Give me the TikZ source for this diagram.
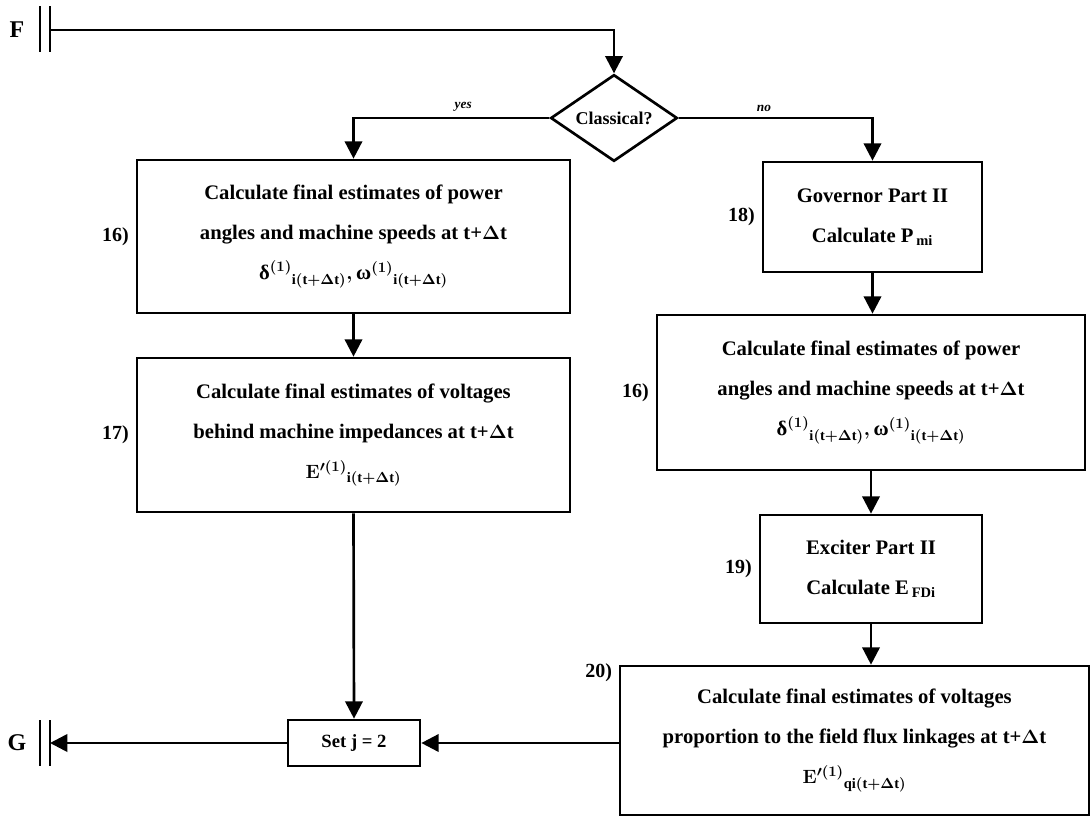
\documentclass[tikz,border=0pt]{standalone}
\usepackage{fontspec}
\setmainfont{Liberation Serif}
\usepackage{tikz}
\usetikzlibrary{arrows.meta,shapes.geometric,positioning}

\tikzset{
  procbox/.style={draw, line width=2pt, align=center, inner sep=0pt,
    font=\bfseries\boldmath\fontsize{15.5}{30}\selectfont},
  decision/.style={draw, diamond, line width=2pt, inner sep=0pt, aspect=1.46,
    minimum width=95pt, minimum height=65pt, font=\bfseries\fontsize{13.5}{15}\selectfont},
  flow/.style={line width=2pt, -{Triangle[width=13pt,length=13pt]}},
  wire/.style={line width=2pt},
  steplbl/.style={font=\bfseries\fontsize{15}{16}\selectfont, inner sep=2pt},
  branch/.style={font=\bfseries\itshape\fontsize{10}{10}\selectfont, inner sep=1pt},
  terminal/.style={font=\bfseries\fontsize{18}{18}\selectfont},
}
\newcommand{\tpdt}{t+$\Delta$t}
\newcommand{\idt}{\mathrm{i(t+}\Delta\mathrm{t)}}

\begin{document}
\begin{tikzpicture}[x=0.75pt,y=-0.75pt]
\useasboundingbox (0,0) rectangle (1092,821);

% Entry F
\node[terminal] (F) at (17,30) {F};
\draw[wire] (40,6) -- (40,52);
\draw[wire] (50,6) -- (50,52);
\coordinate (fbar) at (50,30);

% Decision
\node[decision] (cls) at (614,118) {Classical?};

% Classical branch
\node[procbox, minimum width=324.75pt, minimum height=114.75pt] (b16l) at (353.5,236.5)
  {Calculate final estimates of power\\ angles and machine speeds at \tpdt\\
   $\hbox{δ}^{(1)}{}_{\idt}, \hbox{ω}^{(1)}{}_{\idt}$};
\node[procbox, minimum width=324.75pt, minimum height=115.5pt] (b17) at (353.5,435)
  {Calculate final estimates of voltages\\ behind machine impedances at \tpdt\\
   $\mathbf{E}'^{(1)}{}_{\idt}$};
\node[procbox, minimum width=99pt, minimum height=34.5pt,
  font=\bfseries\fontsize{14}{16}\selectfont] (setj) at (354,743) {Set j = 2};

% Detailed branch
\node[procbox, minimum width=164.25pt, minimum height=82.5pt] (b18) at (872.5,217)
  {Governor Part II\\ Calculate P$_{\,\mathrm{mi}}$};
\node[procbox, minimum width=321pt, minimum height=116.25pt] (b16r) at (871,392.5)
  {Calculate final estimates of power\\ angles and machine speeds at \tpdt\\
   $\hbox{δ}^{(1)}{}_{\idt}, \hbox{ω}^{(1)}{}_{\idt}$};
\node[procbox, minimum width=166.5pt, minimum height=81pt] (b19) at (871,569)
  {Exciter Part II\\ Calculate E$_{\,\mathrm{FDi}}$};
\node[procbox, minimum width=351.75pt, minimum height=111.75pt] (b20) at (854.5,740.5)
  {Calculate final estimates of voltages\\ proportion to the field flux linkages at \tpdt\\
   $\mathbf{E}'^{(1)}{}_{\mathrm{qi(t+}\Delta\mathrm{t)}}$};

% Step numbers
\foreach \b/\t in {b16l/16), b17/17), b18/18), b16r/16), b19/19)}
  \node[steplbl, left=3pt of \b] (lbl-\b) {\t};
\node[steplbl, anchor=east] (lbl-b20) at (615,673) {20)};

% Exit G
\node[terminal] (G) at (17,743) {G};
\draw[wire] (40,720) -- (40,766);
\draw[wire] (50,720) -- (50,766);
\coordinate (gbar) at (50,743);

% Connectors
\draw[flow] (fbar) -| (cls.north);
\draw[flow] (cls.west) -| node[branch, pos=0.22, above=3pt] (yes) {yes} (b16l.north);
\draw[flow] (cls.east) -| node[branch, pos=0.22, above=3pt] (no) {no} (b18.north);
\draw[flow] (b16l.south) -- (b17.north);
\draw[flow] (b17.south) -- (setj.north);
\draw[flow] (b18.south) -- (b18.south |- b16r.north);
\draw[flow] (b16r.south) -- (b16r.south |- b19.north);
\draw[flow] (b19.south) -- (b19.south |- b20.north);
\draw[flow] (setj.east -| b20.west) -- (setj.east);
\draw[flow] (setj.west) -- (gbar);
\end{tikzpicture}
\end{document}
